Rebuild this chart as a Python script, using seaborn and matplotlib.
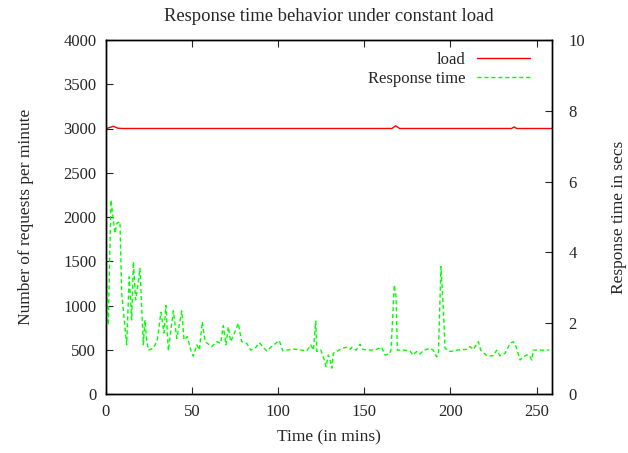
import matplotlib
matplotlib.use("Agg")
import matplotlib.pyplot as plt
import seaborn as sns
import pandas as pd

# ---- data ----
load_time = [0, 2, 4.2, 7, 10, 60, 120, 166, 168.2, 170.5, 235.5, 237, 238.5, 259]
load_reqs = [3000, 3010, 3025, 3003, 3000, 3000, 3000, 3000, 3030, 3000, 3000, 3018, 3000, 3000]

resp_time = [0, 1.3, 2.9, 3.9, 5.2, 6.2, 8.1, 9.1, 12.0, 13.5, 14.9, 15.9, 17.2, 18.4,
             19.7, 21.7, 22.6, 23.6, 24.6, 27.5, 29.8, 31.9, 33.7, 34.8, 36.2, 39.1,
             41.1, 44.0, 45.3, 47.2, 49.2, 50.7, 52.7, 54.2, 55.9, 57.5, 61.4, 64.3,
             66.6, 68.1, 69.7, 71.0, 72.4, 74.9, 76.8, 78.8, 81.7, 84.0, 86.5, 89.0,
             91.0, 93.3, 96.2, 100.6, 102.6, 108.8, 116.6, 118.9, 120.4, 121.8, 122.4,
             124.7, 126.2, 127.8, 129.1, 130.1, 131.1, 132.0, 134.0, 136.9, 139.8,
             141.7, 142.7, 145.2, 147.5, 149.1, 153.3, 157.2, 160.1, 162.0, 164.5,
             165.5, 167.4, 168.4, 169.2, 172.6, 176.5, 178.1, 180.4, 182.3, 184.7,
             188.2, 190.1, 192.0, 193.0, 194.5, 195.9, 196.9, 199.8, 203.7, 209.5,
             211.4, 213.3, 216.2, 217.6, 221.1, 224.9, 226.9, 228.8, 231.7, 234.6,
             236.5, 238.1, 240.4, 242.3, 244.3, 245.8, 247.2, 248.1, 252.0, 257.4]
resp_secs = [3.50, 1.95, 5.48, 5.06, 4.54, 4.82, 4.87, 2.85, 1.39, 3.31, 2.09, 3.74, 2.66, 3.03,
             3.55, 1.39, 2.09, 1.53, 1.24, 1.29, 1.53, 2.31, 1.72, 2.50, 1.22, 2.35,
             1.57, 2.35, 1.53, 1.62, 1.24, 1.07, 1.39, 1.24, 2.04, 1.48, 1.34, 1.48,
             1.43, 1.93, 1.39, 1.90, 1.48, 1.76, 2.00, 1.48, 1.43, 1.24, 1.29, 1.45,
             1.34, 1.22, 1.34, 1.51, 1.22, 1.27, 1.22, 1.39, 1.24, 2.06, 1.20,
             1.24, 1.05, 0.77, 1.10, 0.96, 0.73, 1.15, 1.20, 1.29, 1.32,
             1.26, 1.32, 1.24, 1.41, 1.26, 1.24, 1.26, 1.32, 1.10, 1.13,
             1.24, 3.08, 2.75, 1.24, 1.24, 1.22, 1.10, 1.20, 1.13, 1.24,
             1.29, 1.24, 1.05, 1.15, 3.60, 2.37, 1.29, 1.20, 1.24, 1.26,
             1.34, 1.26, 1.48, 1.24, 1.08, 1.08, 1.24, 1.08, 1.15, 1.43,
             1.48, 1.34, 0.96, 1.05, 1.10, 1.10, 0.96, 1.24, 1.24, 1.24]

x_ticks = [0, 50, 100, 150, 200, 250]
y_ticks = [0, 500, 1000, 1500, 2000, 2500, 3000, 3500, 4000]
y2_ticks = [0, 2, 4, 6, 8, 10]

sns.set_style("ticks")
plt.rcParams['font.family'] = ['Liberation Serif', 'DejaVu Serif']
plt.rcParams['mathtext.fontset'] = 'dejavuserif'

fig = plt.figure(figsize=(6.28, 4.53), dpi=100)
ax = fig.add_axes([106/628, 1 - 394/453, (551.7 - 106)/628, (394 - 40)/453])
ax2 = ax.twinx()

df_load = pd.DataFrame({"t": load_time, "v": load_reqs})
df_resp = pd.DataFrame({"t": resp_time, "v": resp_secs})

sns.lineplot(data=df_load, x="t", y="v", ax=ax, color="#ff0000", lw=1.0, label="load", legend=False)
sns.lineplot(data=df_resp, x="t", y="v", ax=ax2, color="#00ff00", lw=1.0,
             linestyle=(0, (3, 2)), label="Response time", legend=False)

ax.set_xlim(0, 258.8)
ax.set_ylim(0, 4000)
ax2.set_ylim(0, 10)
ax.set_xticks(x_ticks)
ax.set_yticks(y_ticks)
ax2.set_yticks(y2_ticks)

fs = 12
lfs = 12.5
ax.tick_params(axis='both', direction='in', length=5, width=0.8, labelsize=fs, top=True, right=False, pad=7)
ax2.tick_params(axis='y', direction='in', length=5, width=0.8, labelsize=fs, pad=12)
for a in (ax, ax2):
    for s in a.spines.values():
        s.set_linewidth(1.0)
        s.set_color("black")

ax.set_xlabel("Time (in mins)", fontsize=lfs, labelpad=7)
ax.set_ylabel("Number of requests per minute", fontsize=lfs, labelpad=21)
ax2.set_ylabel("Response time in secs", fontsize=lfs, labelpad=19)
ax.set_title("Response time behavior under constant load", fontsize=13.4, pad=14)

h1, l1 = ax.get_legend_handles_labels()
h2, l2 = ax2.get_legend_handles_labels()
leg = ax2.legend(h1 + h2, l1 + l2, loc="upper right", bbox_to_anchor=(0.978, 1.0),
                 frameon=False, markerfirst=False, fontsize=fs, handlelength=3.2,
                 handletextpad=0.7, labelspacing=0.2, borderaxespad=0.3)

fig.savefig("out.png", dpi=100)
